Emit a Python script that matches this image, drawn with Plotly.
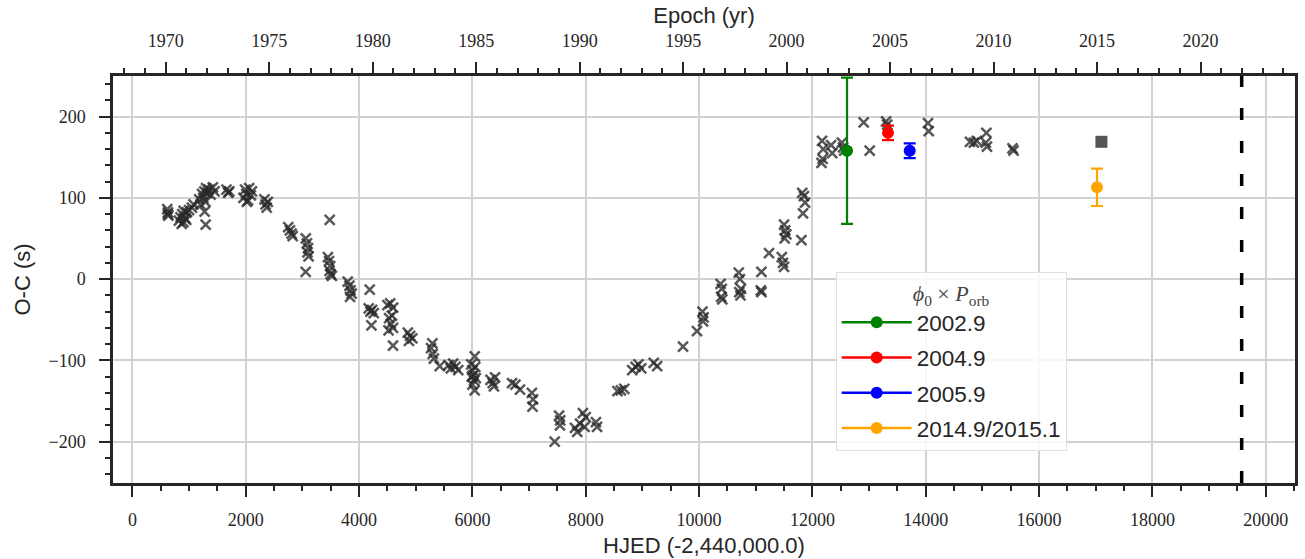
import plotly.graph_objects as go

# ---------------- data ----------------
hjed_x = [615, 628, 635, 625,
          820, 850, 880, 900, 930, 960, 1000, 1050, 1080, 905, 950, 870,
          1180, 1200, 1230, 1250, 1270, 1290, 1300, 1320, 1350, 1380, 1420, 1450, 1275, 1293,
          1660, 1690, 1710,
          1960, 1990, 2010, 2040, 2060, 2090, 2110, 2020,
          2330, 2350, 2370, 2390,
          2750, 2780, 2810, 2830,
          3060, 3080, 3100, 3090, 3110, 3058,
          3482,
          3450, 3470, 3490, 3480, 3500, 3520,
          3800, 3830, 3850, 3870, 3840,
          4188,
          4170, 4200, 4230, 4260, 4218,
          4500, 4550, 4600, 4580, 4530, 4560, 4600, 4520, 4599,
          4860, 4900, 4940, 4880,
          5294, 5270, 5300, 5320, 5423,
          5580, 5620, 5660, 5700, 5750,
          6041, 5980, 6000, 6020, 6050, 6030, 6000, 6060, 6040, 5990,
          6320, 6360, 6400, 6380,
          6700, 6760, 6840,
          7050, 7070, 7060,
          7452, 7530, 7550, 7545,
          7810, 7850, 7900, 7950, 7980, 8000,
          8180, 8200,
          8560, 8620, 8680,
          8820, 8880, 8930, 8980,
          9200, 9260,
          9717, 9963,
          10060, 10080, 10070,
          10380, 10400, 10410, 10390,
          10700, 10720, 10740, 10710, 10730,
          11100, 11090, 11100,
          11234,
          11460, 11480, 11500,
          11500, 11520, 11540, 11510,
          11806, 11834, 11820, 11850, 11870,
          12170, 12190, 12180, 12160,
          12330, 12350,
          12520, 12540, 12560,
          12905, 13011,
          13300, 13320,
          14040, 14052,
          14780, 14850, 14900,
          15070, 15060, 15080,
          15530, 15550]
oc_x = [86, 82, 78, 80,
        72, 76, 80, 70, 75, 82, 85, 88, 92, 84, 73, 68,
        98, 92, 105, 100, 108, 95, 112, 106, 110, 104, 113, 108, 83, 67,
        110, 106, 108,
        100, 110, 105, 97, 112, 103, 108, 95,
        98, 92, 88, 95,
        64, 60, 56, 53,
        50, 44, 38, 33, 28, 9,
        73,
        27, 22, 16, 10, 6, 4,
        -3, -8, -14, -18, -22,
        -13,
        -36, -40, -38, -42, -57,
        -32, -30, -35, -45, -48, -55, -60, -63, -82,
        -66, -70, -73, -76,
        -79, -85, -92, -98, -107,
        -106, -110, -104, -108, -112,
        -95, -105, -112, -118, -108, -125, -130, -122, -137, -120,
        -124, -128, -121, -132,
        -128, -130, -136,
        -140, -148, -157,
        -200, -168, -174, -180,
        -183, -188, -178, -165, -182, -170,
        -176, -182,
        -138, -137, -135,
        -112, -108, -105, -110,
        -103, -107,
        -83, -64,
        -40, -47, -52,
        -6, -12, -25, -22,
        8, 0, -12, -16, -20,
        9, -14, -16,
        32,
        27, 20, 15,
        67, 60, 55, 50,
        48, 81, 106, 102, 94,
        170, 160, 148, 143,
        165, 155,
        168, 162, 158,
        193, 158,
        194, 190,
        192, 182,
        169, 168, 170,
        180, 168, 163,
        161, 158]

phase_labels = ["2002.9", "2004.9", "2005.9", "2014.9/2015.1"]
phase_hjed = [12611, 13334, 13717, 17022]
phase_oc = [158, 180, 158, 113]
phase_err = [90, 9, 9, 23]
phase_colors = ["green", "red", "blue", "orange"]

square_hjed = [17100]
square_oc = [169]

now_hjed = 19575

x_range = [-342, 20516]
y_range = [-251, 250]


def hjed_to_year(h):
    return 2000.0 + (h + 2440000.0 - 2451545.0) / 365.25


# ---------------- figure ----------------
fig = go.Figure()

fig.add_trace(go.Scatter(
    x=hjed_x, y=oc_x, mode="markers", showlegend=False,
    marker=dict(symbol="x-thin", size=10, color="rgba(40,40,40,0.78)",
                line=dict(width=2.5, color="rgba(40,40,40,0.78)")),
))

fig.add_trace(go.Scatter(
    x=square_hjed, y=square_oc, mode="markers", showlegend=False,
    marker=dict(symbol="square", size=12, color="#555555"),
))

for lab, hx, oy, er, col in zip(phase_labels, phase_hjed, phase_oc, phase_err, phase_colors):
    fig.add_trace(go.Scatter(
        x=[hx], y=[oy], mode="lines+markers", name=lab, legendgroup=lab,
        marker=dict(symbol="circle", size=12, color=col),
        line=dict(color=col, width=2.5),
        error_y=dict(type="data", array=[er], visible=True, color=col,
                     thickness=2.2, width=6),
    ))

# invisible trace for top axis
fig.add_trace(go.Scatter(x=[hjed_to_year(x_range[0])], y=[0], xaxis="x2",
                         mode="markers", marker=dict(opacity=0),
                         showlegend=False, hoverinfo="skip"))

fig.add_shape(type="line", xref="x", yref="paper", x0=now_hjed, x1=now_hjed,
              y0=0, y1=1, line=dict(color="black", width=3.5, dash="12px,21px"))

ink = "#262626"
tickfont = dict(family="Liberation Serif, DejaVu Serif, serif", size=18, color=ink)
titlefont = dict(family="Liberation Sans, Arial, sans-serif", size=22, color=ink)

fig.update_layout(
    template="none",
    width=1305, height=559,
    margin=dict(l=113, r=10, t=76, b=76, pad=0),
    plot_bgcolor="white", paper_bgcolor="white",
    xaxis=dict(
        automargin=False,
        range=x_range, showgrid=True, gridcolor="#d2d2d2", gridwidth=1.5,
        zeroline=False, showline=True, linecolor=ink, linewidth=2.5, mirror=True,
        ticks="outside", ticklen=11, tickwidth=1.8, tickcolor=ink, dtick=2000, tick0=0,
        tickformat="d",
        tickfont=tickfont, ticklabelstandoff=8,
        minor=dict(dtick=500, ticks="outside", ticklen=5, tickwidth=1.5, tickcolor=ink, showgrid=False),
        title=dict(text="HJED (-2,440,000.0)", font=titlefont, standoff=9),
    ),
    xaxis2=dict(
        automargin=False,
        overlaying="x", side="top", anchor="y",
        range=[hjed_to_year(x_range[0]), hjed_to_year(x_range[1])],
        showgrid=False, zeroline=False, showline=True, linecolor=ink, linewidth=2.5,
        ticks="outside", ticklen=11, tickwidth=1.8, tickcolor=ink, dtick=5, tick0=1970,
        tickformat="d",
        tickfont=tickfont, ticklabelstandoff=8,
        minor=dict(dtick=1, ticks="outside", ticklen=5, tickwidth=1.5, tickcolor=ink, showgrid=False),
        title=dict(text="Epoch (yr)", font=titlefont, standoff=2),
    ),
    yaxis=dict(
        automargin=False,
        range=y_range, showgrid=True, gridcolor="#d2d2d2", gridwidth=1.5,
        zeroline=False, showline=True, linecolor=ink, linewidth=2.5, mirror=True,
        ticks="outside", ticklen=11, tickwidth=1.8, tickcolor=ink, dtick=100, tick0=0,
        tickfont=tickfont, ticklabelstandoff=10,
        minor=dict(dtick=20, ticks="outside", ticklen=5, tickwidth=1.5, tickcolor=ink, showgrid=False),
        title=dict(text="O-C (s)", font=titlefont, standoff=12),
    ),
    legend=dict(
        x=0.6114, y=0.5195, xanchor="left", yanchor="top",
        bgcolor="rgba(255,255,255,0.85)", bordercolor="#e0e0e0", borderwidth=1,
        font=dict(family="Liberation Sans, Arial, sans-serif", size=22.5, color=ink),
        title=dict(text="<i>ϕ</i><sub>0</sub> × <i>P</i><sub>orb</sub>",
                   font=dict(family="Liberation Serif, DejaVu Serif, serif", size=22, color="#444444"),
                   side="top center"),
        tracegroupgap=3, itemwidth=70,
    ),
    showlegend=True,
)

fig.write_html("out.html")
